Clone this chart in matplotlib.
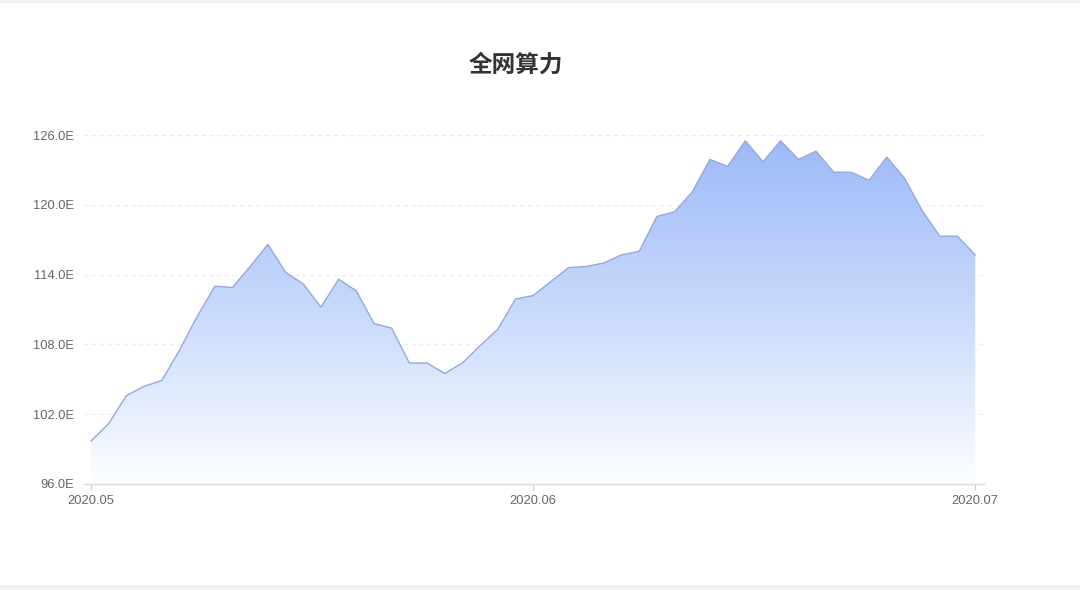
import numpy as np
import matplotlib
matplotlib.use('Agg')
import matplotlib.pyplot as plt
from matplotlib.colors import LinearSegmentedColormap
from matplotlib.patches import Rectangle

plt.rcParams['font.family'] = ['Noto Sans CJK SC', 'DejaVu Sans']

# data (unit: E)
hashrate = [99.7, 101.2, 103.6, 104.4, 104.9, 107.5, 110.4, 113.0, 112.9, 114.7,
            116.6, 114.2, 113.2, 111.2, 113.6, 112.6, 109.8, 109.4, 106.4, 106.4,
            105.5, 106.4, 107.9, 109.3, 111.9, 112.2, 113.4, 114.6, 114.7, 115.0,
            115.7, 116.0, 119.0, 119.4, 121.1, 123.9, 123.3, 125.5, 123.7, 125.5,
            123.9, 124.6, 122.8, 122.8, 122.1, 124.1, 122.3, 119.5, 117.3, 117.3,
            115.7]
tick_idx = [0, 25, 50]
tick_labels = ['2020.05', '2020.06', '2020.07']
y_ticks = [96, 102, 108, 114, 120, 126]

x = np.arange(len(hashrate))
y = np.array(hashrate)

fig = plt.figure(figsize=(10.8, 5.9), dpi=100)
ax = fig.add_axes([84 / 1080, 1 - 484 / 590, 900 / 1080, 349 / 590])

ymin, ymax = 96, 126
ax.set_xlim(-0.4, 50.5)
ax.set_ylim(ymin, ymax)

# gradient fill under the line
cmap = LinearSegmentedColormap.from_list(
    'fade', [(0, '#fdfeff'), (0.5, '#c9dafb'), (1, '#9dbaf9')])
grad = np.linspace(0, 1, 256).reshape(-1, 1)
img = ax.imshow(grad, cmap=cmap, aspect='auto', origin='lower',
                extent=[x[0], x[-1], ymin, y.max()], zorder=1)
poly = ax.fill_between(x, y, ymin, color='none', lw=0)
img.set_clip_path(poly.get_paths()[0], transform=ax.transData)

ax.plot(x, y, color='#8eaaec', lw=1.0, zorder=3)

# axes styling
for s in ['top', 'right', 'left']:
    ax.spines[s].set_visible(False)
ax.spines['bottom'].set_color('#dcdcdc')
ax.spines['bottom'].set_linewidth(1.0)

tick_font = ['Liberation Sans', 'DejaVu Sans']
ax.set_yticks(y_ticks)
ax.set_yticklabels([f'{v:.1f}E' for v in y_ticks], family=tick_font)
ax.set_xticks(tick_idx)
ax.set_xticklabels(tick_labels, family=tick_font)
ax.tick_params(axis='y', length=0, pad=7, labelsize=9.3, labelcolor='#666666')
ax.tick_params(axis='x', length=4, width=0.8, color='#cccccc', pad=4,
               labelsize=9.3, labelcolor='#666666')
ax.yaxis.grid(True, color='#ececec', linestyle=(0, (4, 3)), linewidth=0.8)
ax.set_axisbelow(True)

fig.text(516 / 1080, 1 - 65 / 590, '全网算力', ha='center', va='center',
         fontsize=17, fontweight='bold', color='#333333')

# light page edges
fig.patches.append(Rectangle((0, 0), 1, 5 / 590, transform=fig.transFigure,
                             color='#f2f2f2', zorder=0))
fig.patches.append(Rectangle((0, 1 - 2 / 590), 1, 2 / 590, transform=fig.transFigure,
                             color='#f2f2f2', zorder=0))

fig.savefig('out.png', dpi=100)
